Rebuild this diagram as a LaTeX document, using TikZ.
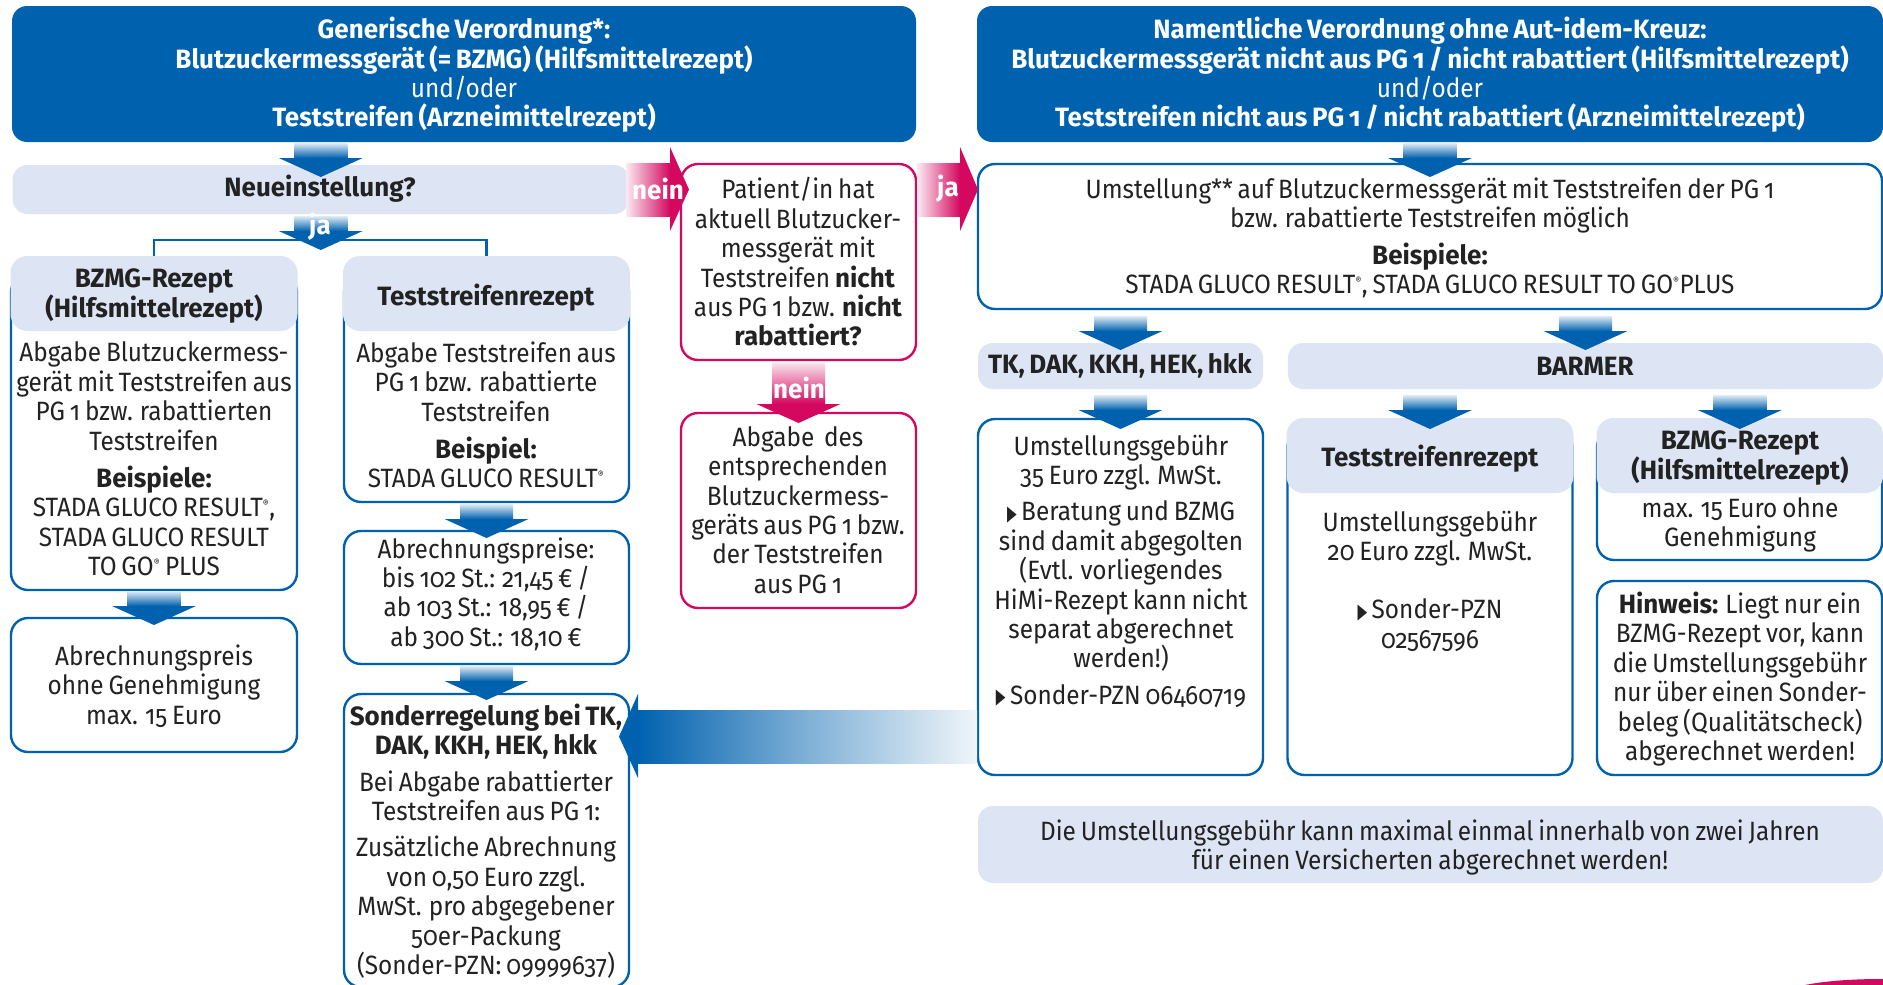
\documentclass[tikz,border=0pt]{standalone}
\usepackage{fontspec}
\setmainfont[Numbers=OldStyle,WordSpace=0.75,UprightFeatures={FakeStretch=0.92},BoldFeatures={FakeStretch=0.98}]{Fira Sans}
\newfontfamily\symfont{DejaVu Sans}
\definecolor{mblue}{HTML}{0062AE}
\definecolor{mpink}{HTML}{D4085F}
\definecolor{mlight}{HTML}{DDE5F4}
\definecolor{mtext}{HTML}{222222}
\newcommand\tri{\raisebox{0.5pt}{\scalebox{0.6}[1]{\symfont\fontsize{21}{21}\selectfont ▶}}\,}
\newcommand\reg{\textsuperscript{\fontsize{10}{10}\selectfont ®}}
\tikzset{
  x=1pt,y=-1pt,
  every node/.style={inner sep=0pt,outer sep=0pt},
  txt/.style={align=center,text=mtext,font=\fontsize{26.5}{29.4}\selectfont},
  wtxt/.style={text=white,font=\bfseries\fontsize{26.5}{29.4}\selectfont},
  topbox/.style={fill=mblue,rounded corners=15pt},
  bar/.style={fill=mlight,rounded corners=15pt},
  head/.style={fill=mlight,rounded corners=17pt},
  bluebox/.style={draw=mblue,line width=2.4pt,fill=white,rounded corners=17pt},
  pinkbox/.style={draw=mpink,line width=2.4pt,fill=white,rounded corners=17pt},
}
\newcommand\bx[6]{\node[#2,minimum width={(#5-#3)*1pt},minimum height={(#6-#4)*1pt}] (#1) at ({(#3+#5)/2},{(#4+#6)/2}) {};}
\newcommand\tx[5][txt]{\node[#1] (#2) at (#3,#4) {#5};}
% source, target, gap, shaft length, half shaft, half head, colour
\newcommand\darr[7]{%
  \path (#2.north |- #1.south) ++(0,#3) coordinate (tmpa);
  \begin{scope}[shift={(tmpa)}]
    \shade[top color=#7!12,bottom color=#7] (-#5,0) rectangle (#5,#4);
    \fill[#7] (-#6,#4) -- (#6,#4) -- (0,#4+19) -- cycle;
  \end{scope}}
\begin{document}
\begin{tikzpicture}
\clip (0,0) rectangle (1883,985);
\fill[white] (0,0) rectangle (1883,985);
% top
\bx{topl}{topbox}{12}{6}{916}{142}
\bx{topr}{topbox}{977}{6}{1883}{142}
% left column
\bx{neu}{bar}{12.5}{165}{629}{214}
\bx{bzmgbox}{bluebox}{11}{275}{297}{590}
\bx{testbox}{bluebox}{344}{275}{629}{502}
\bx{hbz}{head}{10.5}{256}{297.5}{331}
\bx{hte}{head}{343}{256}{630}{331}
\bx{abr}{bluebox}{11}{618}{297}{752}
\bx{preise}{bluebox}{344}{531}{629}{664}
\bx{sonder}{bluebox}{344}{694}{629}{987}
% middle
\bx{pat}{pinkbox}{681}{164}{916}{360}
\bx{abg}{pinkbox}{681}{413}{916}{608}
% right
\bx{ums}{bluebox}{978}{164}{1882}{309}
\bx{tk}{bar}{978}{343}{1263}{389}
\bx{bar}{bar}{1288}{343}{1883}{389}
\bx{tkbox}{bluebox}{978}{419}{1263}{775}
\bx{rtbox}{bluebox}{1287.5}{430}{1572.5}{775}
\bx{rt}{head}{1286.5}{418}{1573.5}{493}
\bx{rbbox}{bluebox}{1597}{430}{1882}{560}
\bx{rb}{head}{1596.5}{418}{1883}{493}
\bx{hin}{bluebox}{1597}{581}{1882}{775}
\bx{foot}{bar}{978}{806}{1883}{883}
% connector under ja
\coordinate (cbar) at (320,240);
\draw[mblue,line width=2.4pt] (hbz.north) -- (hbz.north |- cbar) -- (hte.north |- cbar) -- (hte.north);
% block arrows
\darr{topl}{neu}{1}{15}{26.5}{42}{mblue}
\darr{neu}{neu}{2}{15}{26.5}{42}{mblue}
\darr{bzmgbox}{bzmgbox}{1}{15}{26.5}{42}{mblue}
\darr{testbox}{testbox}{2}{15}{26.5}{42}{mblue}
\darr{preise}{preise}{2}{15}{26.5}{42}{mblue}
\darr{topr}{ums}{1}{15}{26.5}{42}{mblue}
\darr{ums}{tk}{7}{15}{26.5}{42}{mblue}
\darr{ums}{bar}{7}{15}{26.5}{42}{mblue}
\darr{tk}{tkbox}{6}{15}{26.5}{42}{mblue}
\darr{bar}{rt}{6}{15}{26.5}{42}{mblue}
\darr{bar}{rb}{6}{15}{26.5}{42}{mblue}
\darr{pat}{abg}{3}{41}{26.5}{42}{mpink}
% horizontal arrows
\shade[left color=mpink!8,right color=mpink] (626,163) rectangle (670,216);
\fill[mpink] (670,147) -- (689,189.5) -- (670,231) -- cycle;
\shade[left color=mpink!8,right color=mpink] (917,163) rectangle (960,216);
\fill[mpink] (960,147) -- (978,189.5) -- (960,231) -- cycle;
\shade[left color=mblue,right color=mblue!6,middle color=mblue!50] (638,710) rectangle (977,763);
\fill[mblue] (638,694) -- (619,736.5) -- (638,778) -- cycle;
% swoosh
\fill[mpink] (1805,985) .. controls (1830,980) and (1860,979) .. (1883,979) -- (1883,985) -- cycle;
% texts
\tx[wtxt]{ljanein}{658}{189}{nein}
\tx[wtxt]{lja2}{948}{189}{ja}
\tx[wtxt]{lja}{320}{227}{ja}
\tx[wtxt]{lnein}{799}{388}{nein}
\tx[txt,text=white]{ttl}{464}{75}{\textbf{Generische Verordnung*:}\\\textbf{Blutzuckermessgerät (= BZMG) (Hilfsmittelrezept)}\\und/oder\\\textbf{Teststreifen (Arzneimittelrezept)}}
\tx[txt,text=white]{ttr}{1430}{75}{\textbf{Namentliche Verordnung ohne Aut-idem-Kreuz:}\\\textbf{Blutzuckermessgerät nicht aus PG 1 / nicht rabattiert (Hilfsmittelrezept)}\\und/oder\\\textbf{Teststreifen nicht aus PG 1 / nicht rabattiert (Arzneimittelrezept)}}
\tx{tneu}{320}{189}{\textbf{Neueinstellung?}}
\tx{thbz}{154}{296}{\textbf{BZMG-Rezept}\\\textbf{(Hilfsmittelrezept)}}
\tx{thte}{486}{298}{\textbf{Teststreifenrezept}}
\tx{tbz}{154}{459}{Abgabe Blutzuckermess-\\gerät mit Teststreifen aus\\PG 1 bzw. rabattierten\\Teststreifen\\[8pt]\textbf{Beispiele:}\\STADA GLUCO RESULT\reg,\\STADA GLUCO RESULT\\TO GO\reg{} PLUS}
\tx{tte}{486}{415}{Abgabe Teststreifen aus\\PG 1 bzw. rabattierte\\Teststreifen\\[8pt]\textbf{Beispiel:}\\STADA GLUCO RESULT\reg}
\tx{tabr}{154}{686}{Abrechnungspreis\\ohne Genehmigung\\max. 15 Euro}
\tx{tpre}{486}{594}{Abrechnungspreise:\\bis 102 St.: 21,45 € /\\ab 103 St.: 18,95 € /\\ab 300 St.: 18,10 €}
\tx{tson}{486}{841}{\textbf{Sonderregelung bei TK,}\\\textbf{DAK, KKH, HEK, hkk}\\[7pt]Bei Abgabe rabattierter\\Teststreifen aus PG 1:\\[7pt]Zusätzliche Abrechnung\\von 0,50 Euro zzgl.\\MwSt. pro abgegebener\\50er-Packung\\(Sonder-PZN: 09999637)}
\tx{tpat}{798}{262}{Patient/in hat\\aktuell Blutzucker-\\messgerät mit\\Teststreifen \textbf{nicht}\\aus PG 1 bzw. \textbf{nicht}\\\textbf{rabattiert?}}
\tx{tabg}{798}{510}{Abgabe\ \ des\\entsprechenden\\Blutzuckermess-\\geräts aus PG 1 bzw.\\der Teststreifen\\aus PG 1}
\tx{tums}{1430}{238}{Umstellung** auf Blutzuckermessgerät mit Teststreifen der PG 1\\bzw. rabattierte Teststreifen möglich\\[7pt]\textbf{Beispiele:}\\STADA GLUCO RESULT\reg, STADA GLUCO RESULT TO GO\reg PLUS}
\tx{ttk}{1120}{366}{\textbf{TK, DAK, KKH, HEK, hkk}}
\tx{tbar}{1585}{366}{\textbf{BARMER}}
\tx{ttkb}{1121}{571}{Umstellungsgebühr\\35 Euro zzgl. MwSt.\\[7pt]\tri Beratung und BZMG\\sind damit abgegolten\\(Evtl. vorliegendes\\HiMi-Rezept kann nicht\\separat abgerechnet\\werden!)\\[7pt]\tri Sonder-PZN 06460719}
\tx{trt}{1430}{459}{\textbf{Teststreifenrezept}}
\tx{trtb}{1430}{581}{Umstellungsgebühr\\20 Euro zzgl. MwSt.\\[29pt]\tri Sonder-PZN\\02567596}
\tx{trb}{1740}{458}{\textbf{BZMG-Rezept}\\\textbf{(Hilfsmittelrezept)}}
\tx{trbb}{1740}{525}{max. 15 Euro ohne\\Genehmigung}
\tx{thin}{1740}{679}{\textbf{Hinweis:} Liegt nur ein\\BZMG-Rezept vor, kann\\die Umstellungsgebühr\\nur über einen Sonder-\\beleg (Qualitätscheck)\\abgerechnet werden!}
\tx{tfoot}{1430}{847.5}{Die Umstellungsgebühr kann maximal einmal innerhalb von zwei Jahren\\für einen Versicherten abgerechnet werden!}
\end{tikzpicture}
\end{document}
